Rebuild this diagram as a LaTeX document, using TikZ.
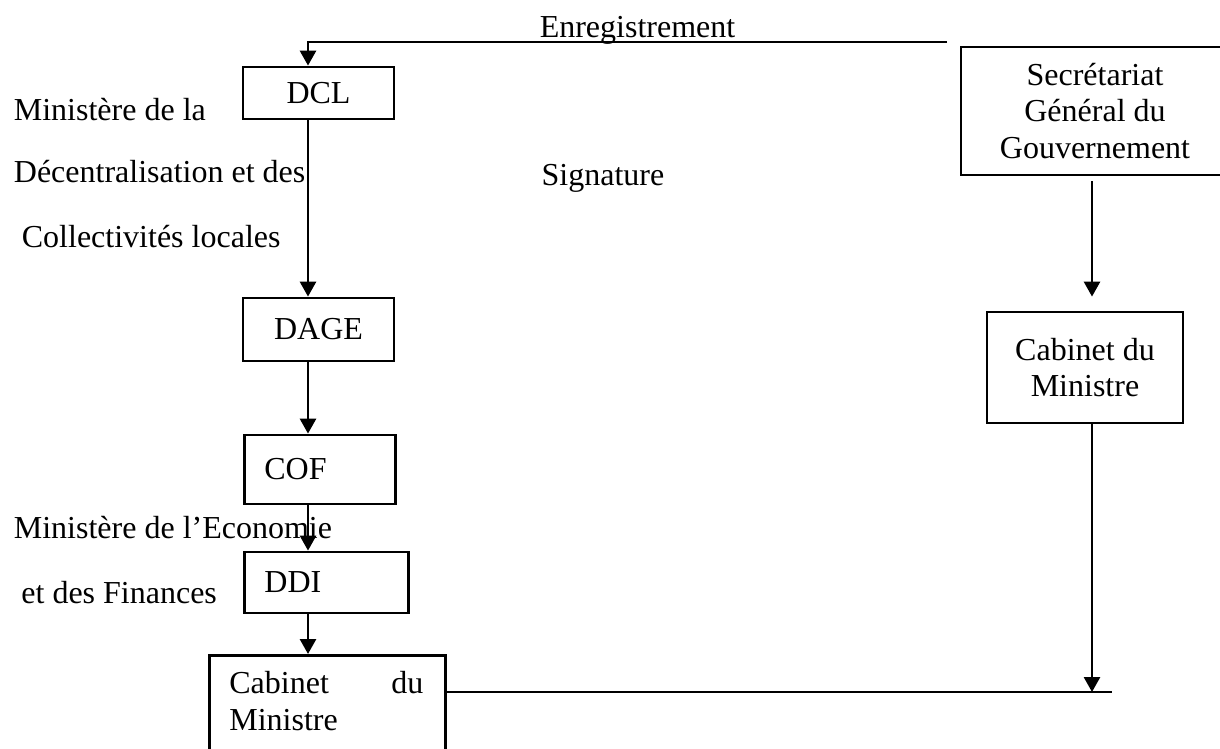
\documentclass[tikz,border=0pt]{standalone}
\usepackage{fontspec}
\setmainfont{Liberation Serif}
\usetikzlibrary{positioning,arrows.meta}

\newcommand{\diagfont}{\fontsize{16}{18.3}\selectfont}

\begin{document}
\begin{tikzpicture}[x=0.5pt, y=-0.5pt, line width=1.4pt,
	box/.style={draw, line width=1.4pt, font=\diagfont, inner sep=0pt},
	lbl/.style={font=\diagfont, inner sep=0pt, anchor=base west},
	arr/.style={-{Triangle[width=8pt,length=7.5pt]}}]
	\useasboundingbox (0,0) rectangle (1220,749);
	\clip (0,0) rectangle (1220,749);

	% columns of the arrows
	\coordinate (colL) at (308,0);
	\coordinate (colR) at (1092,0);

	% left chain
	\node[box, minimum width=75.5pt, minimum height=26pt] (dcl) at (318.5,93) {DCL};
	\node[box, minimum width=75.5pt, minimum height=31.5pt] (dage) at (318.5,329.5) {DAGE};
	\node[box, text width=55.5pt, inner xsep=10pt, align=left, minimum height=34.5pt, anchor=west] (cof) at (243,469.5) {COF};
	\node[box, text width=62pt, inner xsep=10pt, align=left, minimum height=30.5pt, anchor=west] (ddi) at (243,582.5) {DDI};
	\node[box, minimum width=118pt, minimum height=80pt, anchor=north west] (cabb) at (208,654) {};
	\node[font=\diagfont, text width=97pt, inner sep=0pt, align=left, anchor=north west] (cabbtxt) at (228,670) {Cabinet \hfill du\\Ministre};

	% right chain
	\node[box, minimum width=134pt, minimum height=64pt, align=center] (sgg) at (1095,111) {Secrétariat\\Général du\\Gouvernement};
	\node[box, minimum width=98pt, minimum height=55.5pt, align=center] (cabr) at (1085,367.5) {Cabinet du\\Ministre};

	% labels
	\node[lbl] (mdcl1) at (12.5,120) {Ministère de la};
	\node[lbl] (mdcl2) at (12.5,183) {Décentralisation et des};
	\node[lbl] (mdcl3) at (20.5,247) {Collectivités locales};
	\node[lbl] (mef1) at (12.5,538) {Ministère de l’Economie};
	\node[lbl] (mef2) at (20,603) {et des Finances};
	\node[lbl, anchor=base] (sign) at (603,185) {Signature};
	\node[lbl, anchor=base] (enrtxt) at (637.5,37.5) {Enregistrement};

	% connectors
	\coordinate (enr) at (947,42);
	\coordinate (join) at (1112,692);
	\draw[arr] (enr) -| (dcl.north -| colL);
	\draw[arr] (dcl.south -| colL) -- (dage.north -| colL);
	\draw[arr] (dage.south -| colL) -- (cof.north -| colL);
	\draw[arr] (cof.south -| colL) -- (ddi.north -| colL);
	\draw[arr] (ddi.south -| colL) -- (cabb.north -| colL);
	\draw[arr, shorten <=2.5pt, shorten >=7pt] (sgg.south -| colR) -- (cabr.north -| colR);
	\draw[arr] (cabr.south -| colR) -- (join -| colR);
	\draw (join -| cabb.east) -- (join);
\end{tikzpicture}
\end{document}
